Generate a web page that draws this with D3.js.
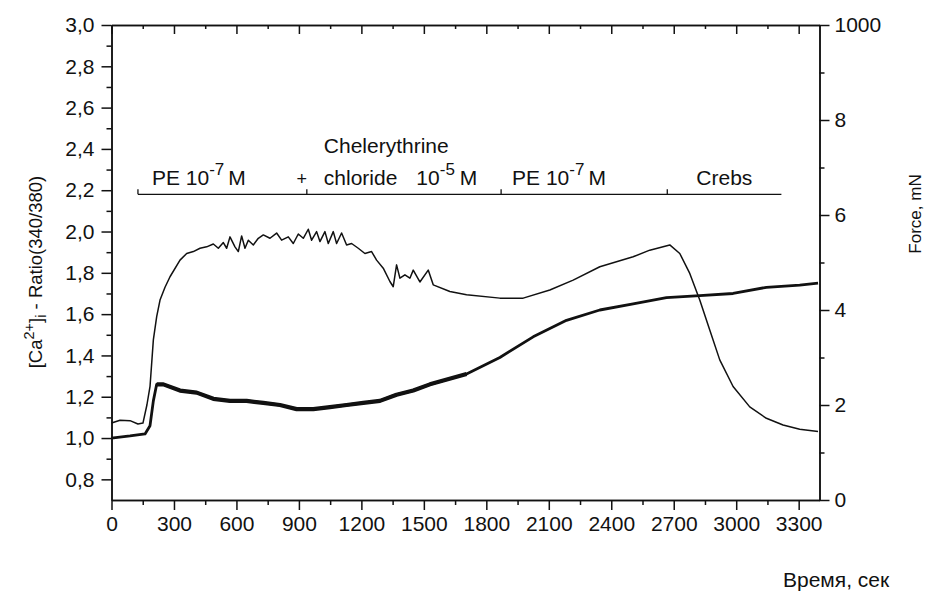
<!DOCTYPE html>
<html lang="ru">
<head>
<meta charset="utf-8">
<title>[Ca2+]i ratio and force</title>
<script src="https://d3js.org/d3.v7.min.js"></script>
<style>
  body { margin: 0; background: #fff; }
  svg text { font-family: "Liberation Sans", Arial, sans-serif; fill: #111; }
  .axis path, .axis line { stroke: #111; stroke-width: 1.5; }
</style>
</head>
<body>
<svg id="chart" width="928" height="594"></svg>
<script>
// force trace [time s, force mN] (right axis)
var forceTrace = [
  [0,1.62],[41,1.68],[89,1.67],[127,1.60],[151,1.62],[170,2.00],[185,2.39],[201,3.37],
  [217,3.86],[233,4.21],[257,4.48],[281,4.70],[329,5.05],[361,5.19],[393,5.23],[425,5.30],
  [457,5.33],[489,5.39],[513,5.30],[537,5.42],[553,5.30],[569,5.54],[593,5.33],[609,5.23],
  [625,5.56],[641,5.30],[657,5.47],[681,5.37],[705,5.51],[729,5.58],[761,5.51],[793,5.62],
  [817,5.47],[849,5.54],[873,5.40],[897,5.60],[921,5.51],[945,5.70],[961,5.47],[985,5.65],
  [1001,5.44],[1025,5.65],[1041,5.40],[1065,5.65],[1081,5.40],[1105,5.62],[1129,5.37],
  [1153,5.40],[1185,5.30],[1217,5.19],[1249,5.23],[1273,5.05],[1305,4.88],[1337,4.60],
  [1353,4.49],[1369,4.95],[1385,4.67],[1409,4.74],[1433,4.67],[1449,4.84],[1481,4.59],
  [1521,4.84],[1545,4.53],[1625,4.39],[1705,4.32],[1865,4.25],[1977,4.25],[2105,4.42],
  [2217,4.63],[2345,4.91],[2505,5.12],[2585,5.26],[2681,5.37],[2729,5.19],[2777,4.77],
  [2825,4.21],[2873,3.58],[2921,2.95],[2985,2.39],[3065,1.96],[3145,1.72],[3225,1.58],
  [3305,1.49],[3393,1.44]
];

// [Ca2+]i ratio 340/380 trace [time s, ratio] (left axis)
var ratioTrace = [
  [0,1.00],[89,1.01],[161,1.02],[185,1.06],[201,1.18],[217,1.26],[249,1.26],[329,1.23],
  [409,1.22],[489,1.19],[569,1.18],[649,1.18],[729,1.17],[809,1.16],[889,1.14],[969,1.14],
  [1049,1.15],[1129,1.16],[1209,1.17],[1289,1.18],[1369,1.21],[1449,1.23],[1529,1.26],
  [1705,1.31],[1865,1.39],[2025,1.49],[2185,1.57],[2345,1.62],[2505,1.65],[2665,1.68],
  [2825,1.69],[2985,1.70],[3145,1.73],[3305,1.74],[3393,1.75]
];

// treatment periods (s)
var treatBounds = [127, 938, 1871, 2669, 3217];

var timeTicks = [0, 300, 600, 900, 1200, 1500, 1800, 2100, 2400, 2700, 3000, 3300];
var timeMinor = [150, 450, 750, 1050, 1350, 1650, 1950, 2250, 2550, 2850, 3150];
var ratioTicks = [0.8, 1.0, 1.2, 1.4, 1.6, 1.8, 2.0, 2.2, 2.4, 2.6, 2.8, 3.0];
var ratioMinor = [0.9, 1.1, 1.3, 1.5, 1.7, 1.9, 2.1, 2.3, 2.5, 2.7, 2.9];
var forceTicks = [0, 2, 4, 6, 8, 10];
var forceTickLabels = ["0", "2", "4", "6", "8", "1000"];
var forceMinor = [1, 3, 5, 7, 9];

var plotL = 111.5, plotR = 819.5, plotT = 25, plotB = 500;
var bracketLevel = 2.18; // ratio units

var svg = d3.select("#chart");

var x = d3.scaleLinear().domain([0, 3400]).range([plotL, plotR]);
var yR = d3.scaleLinear().domain([0.7, 3.0]).range([plotB, plotT]);
var yF = d3.scaleLinear().domain([0, 10]).range([plotB, plotT]);

function axis(gen, tx, ty) {
  var g = svg.append("g").attr("class", "axis")
    .attr("transform", "translate(" + tx + "," + ty + ")")
    .call(gen);
  g.selectAll("text").attr("font-size", 21).attr("fill", "#111")
    .attr("font-family", "'Liberation Sans', Arial, sans-serif");
  return g;
}

// bottom
axis(d3.axisBottom(x).tickValues(timeTicks).tickSize(10).tickSizeOuter(0).tickPadding(6)
  .tickFormat(d3.format("d")), 0, plotB);
axis(d3.axisBottom(x).tickValues(timeMinor).tickSize(5).tickSizeOuter(0).tickFormat(""), 0, plotB);
// top (inward ticks)
axis(d3.axisTop(x).tickValues(timeTicks).tickSize(-9).tickSizeOuter(0).tickFormat(""), 0, plotT);
axis(d3.axisTop(x).tickValues(timeMinor).tickSize(-4).tickSizeOuter(0).tickFormat(""), 0, plotT);
// left
axis(d3.axisLeft(yR).tickValues(ratioTicks).tickSize(10).tickSizeOuter(0).tickPadding(7)
  .tickFormat(function(d) { return d3.format(".1f")(d).replace(".", ","); }), plotL, 0);
axis(d3.axisLeft(yR).tickValues(ratioMinor).tickSize(5).tickSizeOuter(0).tickFormat(""), plotL, 0);
// right
axis(d3.axisRight(yF).tickValues(forceTicks).tickSize(10).tickSizeOuter(0).tickPadding(5)
  .tickFormat(function(d, i) { return forceTickLabels[i]; }), plotR, 0);
axis(d3.axisRight(yF).tickValues(forceMinor).tickSize(5).tickSizeOuter(0).tickFormat(""), plotR, 0);

// traces
var ratioLine = d3.line().x(function(d) { return x(d[0]); }).y(function(d) { return yR(d[1]); });
var forceLine = d3.line().x(function(d) { return x(d[0]); }).y(function(d) { return yF(d[1]); });

svg.append("path").datum(ratioTrace).attr("d", ratioLine)
  .attr("fill", "none").attr("stroke", "#111").attr("stroke-width", 2.8).attr("stroke-linejoin", "round");
svg.append("path").datum(ratioTrace.filter(function(d) { return d[0] >= 217 && d[0] <= 1705; }))
  .attr("d", ratioLine)
  .attr("fill", "none").attr("stroke", "#111").attr("stroke-width", 4.2).attr("stroke-linejoin", "round");
svg.append("path").datum(forceTrace).attr("d", forceLine)
  .attr("fill", "none").attr("stroke", "#111").attr("stroke-width", 1.5).attr("stroke-linejoin", "round");

// treatment bracket
var by = yR(bracketLevel);
svg.append("line").attr("x1", x(treatBounds[0])).attr("x2", x(treatBounds[4]))
  .attr("y1", by).attr("y2", by).attr("stroke", "#111").attr("stroke-width", 1.3);
svg.selectAll(".btick").data(treatBounds.slice(0, 4)).enter().append("line")
  .attr("x1", function(d) { return x(d); }).attr("x2", function(d) { return x(d); })
  .attr("y1", by).attr("y2", by - 5).attr("stroke", "#111").attr("stroke-width", 1.3);

function peLabel(x0) {
  var t = svg.append("text").attr("x", x0).attr("y", by - 9).attr("font-size", 21);
  t.append("tspan").text("PE 10");
  t.append("tspan").attr("dy", -10).attr("font-size", 17).text("-7");
  t.append("tspan").attr("dy", 10).attr("dx", 4).text("M");
}
peLabel(x(treatBounds[0]) + 14);
peLabel(x(treatBounds[2]) + 11);

svg.append("text").attr("x", x(treatBounds[1]) - 5).attr("y", by - 9)
  .attr("text-anchor", "middle").attr("font-size", 18).text("+");
svg.append("text").attr("x", x(treatBounds[1]) + 17).attr("y", by - 41)
  .attr("font-size", 21).text("Chelerythrine");
var ch = svg.append("text").attr("x", x(treatBounds[1]) + 17).attr("y", by - 9).attr("font-size", 21);
ch.append("tspan").text("chloride");
ch.append("tspan").attr("dx", 19).text("10");
ch.append("tspan").attr("dy", -10).attr("font-size", 17).text("-5");
ch.append("tspan").attr("dy", 10).attr("dx", 5).text("M");

svg.append("text").attr("x", (x(treatBounds[3]) + x(treatBounds[4])) / 2).attr("y", by - 9)
  .attr("text-anchor", "middle").attr("font-size", 21).text("Crebs");

// axis titles
var yl = svg.append("text").attr("transform", "translate(42,272) rotate(-90)")
  .attr("text-anchor", "middle").attr("font-size", 18.5);
yl.append("tspan").text("[Ca");
yl.append("tspan").attr("dy", -8).attr("font-size", 14.5).text("2+");
yl.append("tspan").attr("dy", 8).text("]");
yl.append("tspan").attr("dy", 4).attr("font-size", 14.5).text("i");
yl.append("tspan").attr("dy", -4).text(" - Ratio(340/380)");

svg.append("text").attr("transform", "translate(921,214) rotate(-90)")
  .attr("text-anchor", "middle").attr("font-size", 17).text("Force, mN");

svg.append("text").attr("x", 783).attr("y", 587).attr("font-size", 21).text("Время, сек");
</script>
</body>
</html>
